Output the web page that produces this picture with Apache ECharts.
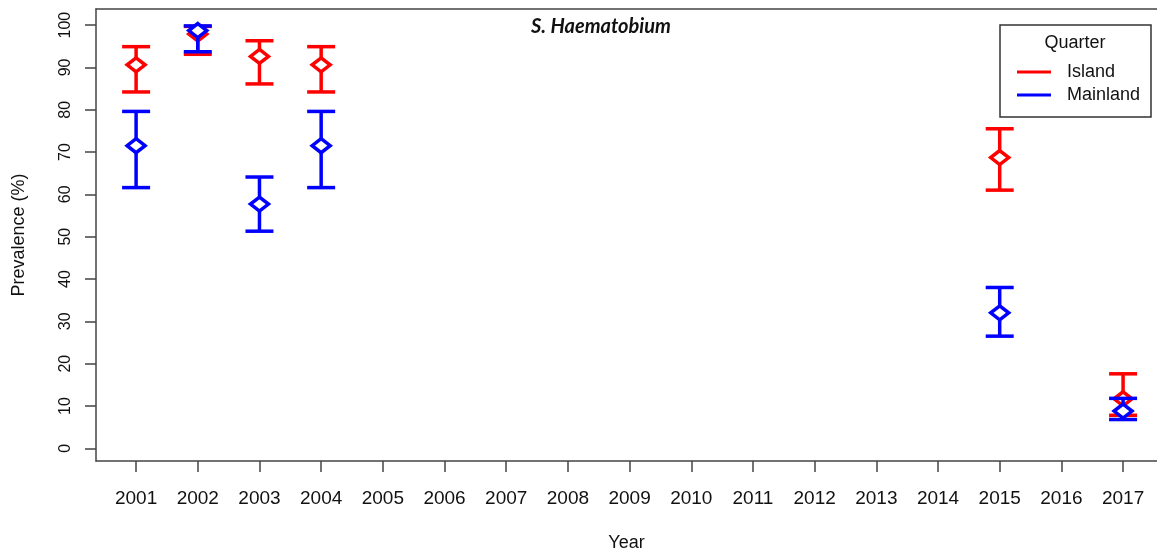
<!DOCTYPE html>
<html>
<head>
<meta charset="utf-8">
<title>S. Haematobium prevalence</title>
<script src="https://cdn.jsdelivr.net/npm/echarts@6/dist/echarts.min.js"></script>
<style>
  html, body { margin: 0; padding: 0; background: #ffffff; }
  #chart { width: 1157px; height: 553px; }
</style>
</head>
<body>
<div id="chart"></div>
<script>
// Survey years and tick labels
const yearTicks = [2001, 2002, 2003, 2004, 2005, 2006, 2007, 2008, 2009, 2010, 2011, 2012, 2013, 2014, 2015, 2016, 2017];
const valueTicks = [0, 10, 20, 30, 40, 50, 60, 70, 80, 90, 100];
const years = [2001, 2002, 2003, 2004, 2015, 2017];

// Prevalence (%) with lower / upper confidence limits
const islandMean = [90.6, 97.9, 92.6, 90.6, 68.7, 11.7];
const islandLow  = [84.2, 93.1, 86.1, 84.2, 61.0, 7.8];
const islandHigh = [94.9, 99.7, 96.3, 94.9, 75.5, 17.6];

const mainlandMean = [71.5, 98.7, 57.7, 71.5, 32.0, 8.8];
const mainlandLow  = [61.6, 93.7, 51.3, 61.6, 26.5, 6.8];
const mainlandHigh = [79.6, 99.8, 64.1, 79.6, 38.0, 11.8];

const RED = '#ff0000';
const BLUE = '#0000ff';
const AXIS = '#444444';
const FONT = '"Liberation Sans", Arial, sans-serif';

function rows(mean, low, high) {
  return years.map((y, i) => [y, mean[i], low[i], high[i]]);
}

// Error bar with caps and a hollow diamond at the estimate
function renderErrorBar(params, api) {
  const x = api.value(0);
  const pm = api.coord([x, api.value(1)]);
  const pl = api.coord([x, api.value(2)]);
  const ph = api.coord([x, api.value(3)]);
  const color = api.visual('color');
  const cap = 14, dw = 9, dh = 7;
  const lineStyle = { stroke: color, lineWidth: 3.5 };
  return {
    type: 'group',
    children: [
      { type: 'line', shape: { x1: pl[0], y1: pl[1], x2: ph[0], y2: ph[1] }, style: lineStyle },
      { type: 'line', shape: { x1: pl[0] - cap, y1: pl[1], x2: pl[0] + cap, y2: pl[1] }, style: lineStyle },
      { type: 'line', shape: { x1: ph[0] - cap, y1: ph[1], x2: ph[0] + cap, y2: ph[1] }, style: lineStyle },
      {
        type: 'polygon',
        shape: { points: [[pm[0], pm[1] - dh], [pm[0] + dw, pm[1]], [pm[0], pm[1] + dh], [pm[0] - dw, pm[1]]] },
        style: { fill: '#ffffff', stroke: color, lineWidth: 3.5 }
      }
    ]
  };
}

const chart = echarts.init(document.getElementById('chart'), null, { renderer: 'canvas' });

chart.setOption({
  animation: false,
  backgroundColor: '#ffffff',
  title: {
    text: 'S. Haematobium',
    left: 596,
    top: 12,
    textAlign: 'center',
    textStyle: { fontFamily: 'Lato, "Open Sans", sans-serif', fontStyle: 'italic', fontWeight: 'bold', fontSize: 20, color: '#111111' }
  },
  legend: {
    orient: 'vertical',
    left: 1017,
    top: 61,
    padding: 0,
    itemWidth: 34,
    itemHeight: 3,
    itemGap: 1,
    icon: 'rect',
    data: ['Island', 'Mainland'],
    textStyle: { fontFamily: FONT, fontSize: 18, color: '#111111', lineHeight: 22, padding: [0, 0, 0, 11] }
  },
  graphic: [
    { type: 'rect', shape: { x: 1000, y: 25, width: 151, height: 92 }, style: { fill: 'none', stroke: '#333333', lineWidth: 1.5 }, z: 10 },
    { type: 'text', x: 1075, y: 43, style: { text: 'Quarter', fontFamily: FONT, fontSize: 18, fill: '#111111', align: 'center', verticalAlign: 'middle' }, z: 10 }
  ],
  grid: { left: 96, right: 0, top: 9, bottom: 92, containLabel: false, outerBoundsMode: 'none' },
  xAxis: [
    {
      type: 'value',
      min: 2000.35,
      max: 2017.55,
      name: 'Year',
      nameLocation: 'middle',
      nameGap: 73,
      nameTextStyle: { fontFamily: FONT, fontSize: 18, color: '#111111' },
      splitLine: { show: false },
      axisLine: { show: true, onZero: false, lineStyle: { color: AXIS, width: 1.5 } },
      axisTick: { show: true, length: 11, customValues: yearTicks, lineStyle: { color: AXIS, width: 1.5 } },
      axisLabel: { customValues: yearTicks, margin: 28, formatter: v => String(v), fontFamily: FONT, fontSize: 19, color: '#111111' }
    },
    {
      type: 'value',
      position: 'top',
      min: 2000.35,
      max: 2017.55,
      splitLine: { show: false },
      axisLine: { show: true, onZero: false, lineStyle: { color: AXIS, width: 1.5 } },
      axisTick: { show: false },
      axisLabel: { show: false }
    }
  ],
  yAxis: {
    type: 'value',
    min: -3,
    max: 103.8,
    name: 'Prevalence (%)',
    nameLocation: 'middle',
    nameGap: 68,
    nameRotate: 90,
    nameTextStyle: { fontFamily: FONT, fontSize: 18, color: '#111111' },
    splitLine: { show: false },
    axisLine: { show: true, onZero: false, lineStyle: { color: AXIS, width: 1.5 } },
    axisTick: { show: true, length: 11, customValues: valueTicks, lineStyle: { color: AXIS, width: 1.5 } },
    axisLabel: { customValues: valueTicks, rotate: 90, margin: 22, fontFamily: FONT, fontSize: 16, color: '#111111' }
  },
  series: [
    {
      name: 'Island',
      type: 'custom',
      xAxisIndex: 0,
      itemStyle: { color: RED },
      renderItem: renderErrorBar,
      encode: { x: 0, y: [1, 2, 3] },
      data: rows(islandMean, islandLow, islandHigh)
    },
    {
      name: 'Mainland',
      type: 'custom',
      xAxisIndex: 0,
      itemStyle: { color: BLUE },
      renderItem: renderErrorBar,
      encode: { x: 0, y: [1, 2, 3] },
      data: rows(mainlandMean, mainlandLow, mainlandHigh)
    }
  ]
});
</script>
</body>
</html>
